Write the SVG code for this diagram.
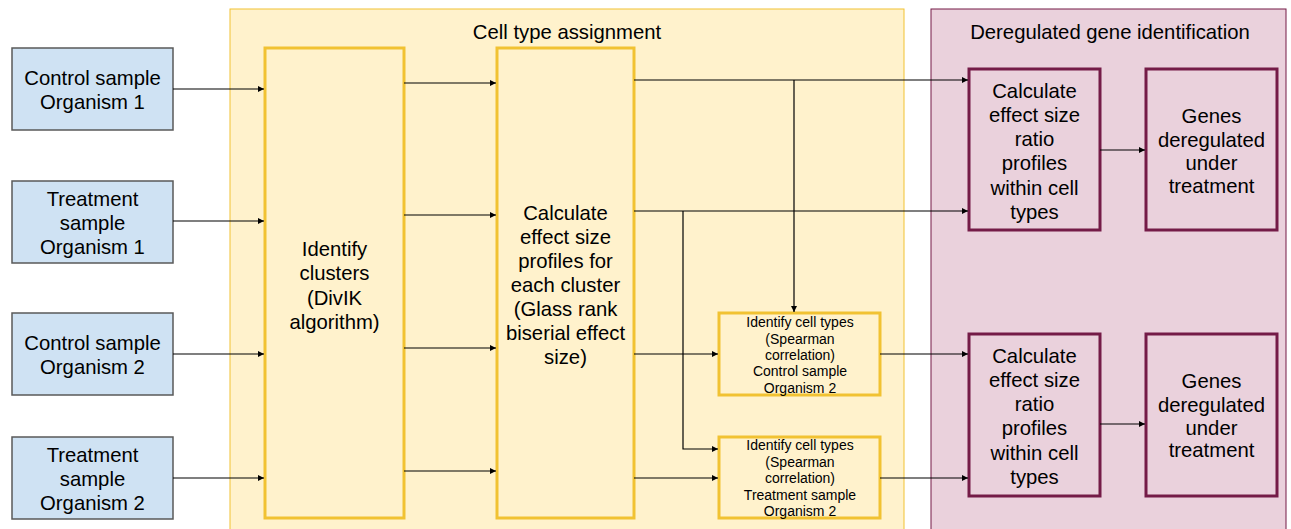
<svg xmlns="http://www.w3.org/2000/svg" width="1291" height="529" viewBox="0 0 1291 529">
<defs>
<marker id="ah" viewBox="0 0 10 10" refX="10" refY="5" markerWidth="8" markerHeight="6" markerUnits="userSpaceOnUse" orient="auto">
<path d="M0,0 L10,5 L0,10 z" fill="#000"/>
</marker>
<style>
text{font-family:"Liberation Sans",Arial,sans-serif;fill:#000;text-anchor:middle}
.t18{font-size:20.3px}
.t13{font-size:14px}
.blue{fill:#cfe2f3;stroke:#595959;stroke-width:1.5}
.ycont{fill:#fff2cc;stroke:#f1c232;stroke-width:1}
.pcont{fill:#ead1dc;stroke:#741b47;stroke-width:1}
.ybox{fill:#fff2cc;stroke:#f1c232;stroke-width:3}
.pbox{fill:#ead1dc;stroke:#741b47;stroke-width:3}
.ca{fill:none;stroke:#000;stroke-width:1.2;marker-end:url(#ah)}
</style>
</defs>
<rect width="1291" height="529" fill="#fff"/>
<g id="group-cell-type">
<rect class="ycont" x="230" y="9" width="674" height="530"/>
<text class="t18" x="567" y="39">Cell type assignment</text>
</g>
<g id="group-dereg">
<rect class="pcont" x="931" y="9" width="355" height="530"/>
<text class="t18" x="1110" y="39">Deregulated gene identification</text>
</g>
<g id="n-ctrl1"><rect class="blue" x="12" y="48" width="161" height="82"/>
<text class="t18"><tspan x="92.5" y="85">Control sample</tspan><tspan x="92.5" y="109">Organism 1</tspan></text></g>
<g id="n-treat1"><rect class="blue" x="12" y="181" width="161" height="82"/>
<text class="t18"><tspan x="92.5" y="205.5">Treatment</tspan><tspan x="92.5" y="229.5">sample</tspan><tspan x="92.5" y="253.5">Organism 1</tspan></text></g>
<g id="n-ctrl2"><rect class="blue" x="12" y="313" width="161" height="82"/>
<text class="t18"><tspan x="92.5" y="350">Control sample</tspan><tspan x="92.5" y="374">Organism 2</tspan></text></g>
<g id="n-treat2"><rect class="blue" x="12" y="437" width="161" height="82"/>
<text class="t18"><tspan x="92.5" y="461.5">Treatment</tspan><tspan x="92.5" y="485.5">sample</tspan><tspan x="92.5" y="509.5">Organism 2</tspan></text></g>
<g id="n-clusters"><rect class="ybox" x="265" y="48" width="139" height="470"/>
<text class="t18"><tspan x="334.5" y="255.5">Identify</tspan><tspan x="334.5" y="280">clusters</tspan><tspan x="334.5" y="304.5">(DivIK</tspan><tspan x="334.5" y="329">algorithm)</tspan></text></g>
<g id="n-effect"><rect class="ybox" x="497" y="48" width="137" height="470"/>
<text class="t18"><tspan x="565.5" y="219.5">Calculate</tspan><tspan x="565.5" y="243.5">effect size</tspan><tspan x="565.5" y="267.5">profiles for</tspan><tspan x="565.5" y="292">each cluster</tspan><tspan x="565.5" y="316">(Glass rank</tspan><tspan x="565.5" y="340">biserial effect</tspan><tspan x="565.5" y="364">size)</tspan></text></g>
<g id="n-ident1"><rect class="ybox" x="719" y="313" width="161" height="82"/>
<text class="t13"><tspan x="800" y="327">Identify cell types</tspan><tspan x="800" y="344">(Spearman</tspan><tspan x="800" y="360">correlation)</tspan><tspan x="800" y="376">Control sample</tspan><tspan x="800" y="392.5">Organism 2</tspan></text></g>
<g id="n-ident2"><rect class="ybox" x="719" y="437" width="161" height="81"/>
<text class="t13"><tspan x="800" y="450">Identify cell types</tspan><tspan x="800" y="467">(Spearman</tspan><tspan x="800" y="483">correlation)</tspan><tspan x="800" y="499.5">Treatment sample</tspan><tspan x="800" y="516">Organism 2</tspan></text></g>
<g id="n-ratio1"><rect class="pbox" x="969" y="69" width="131" height="161"/>
<text class="t18"><tspan x="1034.5" y="98">Calculate</tspan><tspan x="1034.5" y="121.5">effect size</tspan><tspan x="1034.5" y="145.5">ratio</tspan><tspan x="1034.5" y="170">profiles</tspan><tspan x="1034.5" y="194.5">within cell</tspan><tspan x="1034.5" y="219">types</tspan></text></g>
<g id="n-genes1"><rect class="pbox" x="1146" y="69" width="131" height="161"/>
<text class="t18"><tspan x="1211.5" y="123">Genes</tspan><tspan x="1211.5" y="146.5">deregulated</tspan><tspan x="1211.5" y="170">under</tspan><tspan x="1211.5" y="193">treatment</tspan></text></g>
<g id="n-ratio2"><rect class="pbox" x="969" y="334" width="131" height="162"/>
<text class="t18"><tspan x="1034.5" y="363">Calculate</tspan><tspan x="1034.5" y="386.5">effect size</tspan><tspan x="1034.5" y="411">ratio</tspan><tspan x="1034.5" y="435">profiles</tspan><tspan x="1034.5" y="459.5">within cell</tspan><tspan x="1034.5" y="484">types</tspan></text></g>
<g id="n-genes2"><rect class="pbox" x="1146" y="334" width="131" height="162"/>
<text class="t18"><tspan x="1211.5" y="388">Genes</tspan><tspan x="1211.5" y="411.5">deregulated</tspan><tspan x="1211.5" y="435">under</tspan><tspan x="1211.5" y="457">treatment</tspan></text></g>
<g id="connectors">
<path class="ca" d="M173,89 H264"/>
<path class="ca" d="M173,221 H264"/>
<path class="ca" d="M173,354 H264"/>
<path class="ca" d="M173,478 H264"/>
<path class="ca" d="M404,83 H496"/>
<path class="ca" d="M404,215 H496"/>
<path class="ca" d="M404,348 H496"/>
<path class="ca" d="M404,471 H496"/>
<path class="ca" d="M634,80 H968"/>
<path class="ca" d="M794,80 V312"/>
<path class="ca" d="M634,211 H968"/>
<path class="ca" d="M683,211 V449 H718"/>
<path class="ca" d="M634,354 H718"/>
<path class="ca" d="M634,478 H718"/>
<path class="ca" d="M880,354 H968"/>
<path class="ca" d="M880,478 H968"/>
<path class="ca" d="M1100,150 H1145"/>
<path class="ca" d="M1100,424 H1145"/>
</g>
</svg>
